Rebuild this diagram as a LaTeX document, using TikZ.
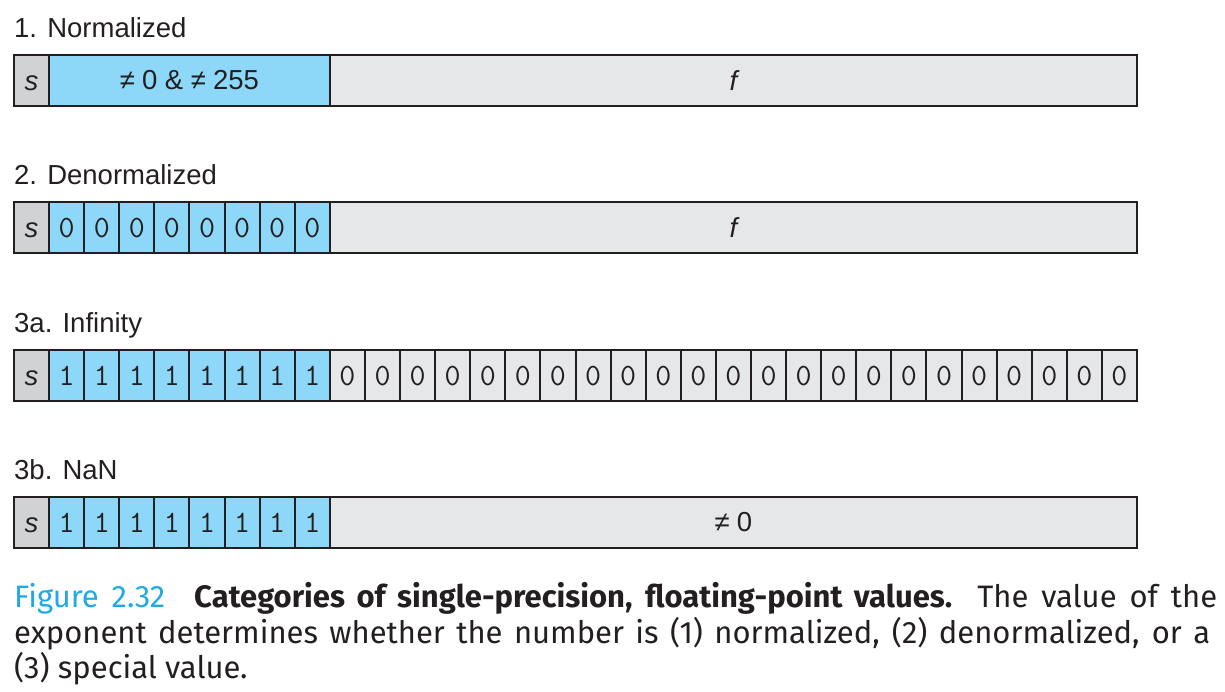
\documentclass[tikz,border=0pt]{standalone}
\usepackage{fontspec}
\setmainfont{Liberation Sans}
\newfontfamily\capfont{Fira Sans}
\definecolor{expblue}{HTML}{8DD8F8}
\definecolor{fracgray}{HTML}{E6E7E8}
\definecolor{signgray}{HTML}{D1D2D4}
\definecolor{edge}{HTML}{231F20}
\definecolor{figcyan}{HTML}{1FAAE6}
\tikzset{
  cellline/.style={draw=edge, line width=2pt},
  barline/.style={draw=edge, line width=2.6pt},
  title/.style={anchor=base west, inner sep=0pt, font=\fontsize{27.5}{30}\selectfont, text=edge},
  field/.style={anchor=base, inner sep=0pt, font=\fontsize{27.5}{30}\selectfont, text=edge},
  letter/.style={field, font=\itshape\fontsize{27.5}{30}\selectfont},
  bit/.style={anchor=base, inner sep=0pt, font=\ttfamily\fontsize{31}{33}\selectfont, text=edge},
  capline/.style={anchor=base west, inner sep=0pt, font=\capfont\fontsize{31}{36}\selectfont, text=edge}
}
\begin{document}
\begin{tikzpicture}[x=1pt, y=-1pt, declare function={w=1123/32; h=51; L=14; R=1137;}, line join=miter]
\useasboundingbox (0,0) rectangle (1225,691);
% fields of the four words
\foreach \ty in {55,202,350,497} {
  \fill[signgray] (L,\ty) rectangle +(w,h);
  \fill[expblue] (L+w,\ty) rectangle +(8*w,h);
  \fill[fracgray] (L+9*w,\ty) rectangle (R,\ty+h);
  \node[letter] at (L+w/2,\ty+35) {s};
}
% 1. normalized
\node[title] (t1) at (L,37) {1. Normalized};
\foreach \i in {1,9} \draw[cellline] (L+\i*w,55) -- +(0,h);
\draw[barline] (L,55) rectangle (R,55+h);
\node[field] (e1) at (L+5*w,55+34.5) {≠\kern7pt0 \& ≠\kern7pt255};
\node[letter] (f1) at ({(L+9*w+R)/2},55+35) {f};
% 2. denormalized
\node[title] (t2) at (L,184) {2. Denormalized};
\foreach \i in {1,...,9} \draw[cellline] (L+\i*w,202) -- +(0,h);
\draw[barline] (L,202) rectangle (R,202+h);
\foreach \i in {1,...,8} \node[bit] (d\i) at (L+\i*w+w/2,202+35.5) {0};
\node[letter] (f2) at ({(L+9*w+R)/2},202+35) {f};
% 3a. infinity
\node[title] (t3) at (L,332) {3a. Infinity};
\foreach \i in {1,...,31} \draw[cellline] (L+\i*w,350) -- +(0,h);
\draw[barline] (L,350) rectangle (R,350+h);
\foreach \i in {1,...,8} \node[bit] (i\i) at (L+\i*w+w/2,350+35.5) {1};
\foreach \i in {9,...,31} \node[bit] (i\i) at (L+\i*w+w/2,350+35.5) {0};
% 3b. NaN
\node[title] (t4) at (L,479) {3b. NaN};
\foreach \i in {1,...,9} \draw[cellline] (L+\i*w,497) -- +(0,h);
\draw[barline] (L,497) rectangle (R,497+h);
\foreach \i in {1,...,8} \node[bit] (n\i) at (L+\i*w+w/2,497+35.5) {1};
\node[field] (f4) at ({(L+9*w+R)/2},497+34.5) {≠\kern7pt0};
% caption
\node[capline] (c1) at (L,607) {\makebox[1203pt][s]{{\color{figcyan}Figure 2.32}\hspace{16pt} {\bfseries Categories of single-precision, floating-point values.} The value of the}};
\node[capline] (c2) at (L,643) {\makebox[1196pt][s]{exponent determines whether the number is (1) normalized, (2) denormalized, or a}};
\node[capline] (c3) at (L,678) {(3) special value.};
\end{tikzpicture}
\end{document}
